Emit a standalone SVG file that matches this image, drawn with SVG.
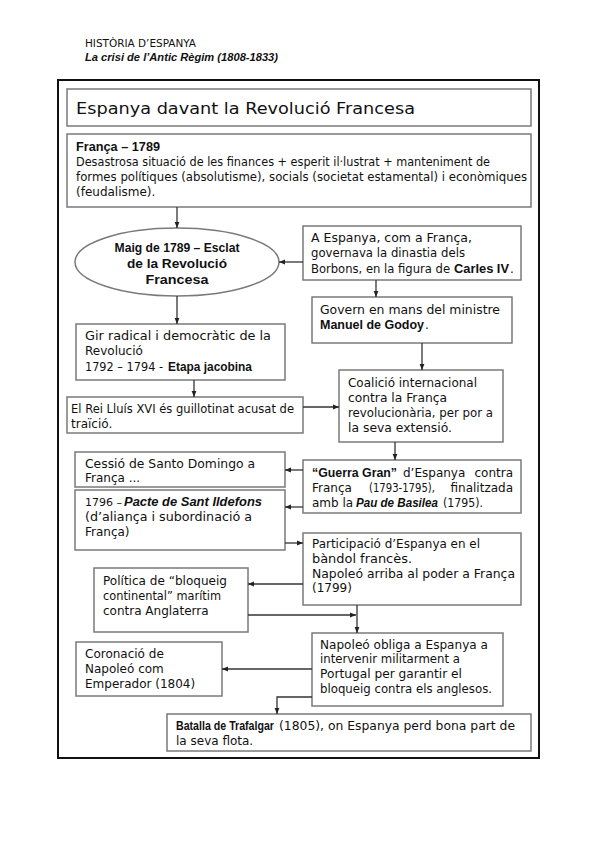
<svg xmlns="http://www.w3.org/2000/svg" width="599" height="848" viewBox="0 0 599 848">
<style>
.bg{fill:#fff}
.frame{fill:none;stroke:#111;stroke-width:2}
.box{fill:#fff;stroke:#7a7a7a;stroke-width:1.5}
text{font-family:"DejaVu Sans","Liberation Sans",sans-serif;font-size:12px;fill:#111}
.b{font-family:"Liberation Sans","DejaVu Sans",sans-serif;font-weight:bold}
.bi{font-family:"Liberation Sans","DejaVu Sans",sans-serif;font-weight:bold;font-style:italic}
.hd{font-size:10px}
.hi{font-size:11px}
.sm{font-size:11px}
.el{font-size:13px}
.ttl{font-size:16.5px}
.conn line,.conn path{stroke:#333;stroke-width:1.3;fill:none;marker-end:url(#ah)}
</style>
<defs>
<marker id="ah" viewBox="0 0 10 10" refX="10" refY="5" markerWidth="6" markerHeight="6" markerUnits="userSpaceOnUse" orient="auto"><path d="M0,1 L10,5 L0,9 z" fill="#222"/></marker>
</defs>
<rect class="bg" x="0" y="0" width="599" height="848"/>

<g id="header">
<text class="hd" x="85" y="47" textLength="111" lengthAdjust="spacingAndGlyphs">HISTÒRIA D’ESPANYA</text>
<text class="bi hi" x="85" y="61" textLength="193" lengthAdjust="spacingAndGlyphs">La crisi de l’Antic Règim (1808-1833)</text>
</g>

<rect class="frame" x="58" y="80" width="481" height="678"/>

<g id="title">
<rect class="box" x="67" y="89" width="464" height="37"/>
<text class="ttl" x="76" y="114" textLength="339" lengthAdjust="spacingAndGlyphs">Espanya davant la Revolució Francesa</text>
</g>

<g id="franca">
<rect class="box" x="67" y="134" width="464" height="73"/>
<text class="b" x="76" y="151" textLength="84" lengthAdjust="spacingAndGlyphs">França – 1789</text>
<text x="76" y="166" textLength="414" lengthAdjust="spacingAndGlyphs">Desastrosa situació de les finances + esperit il·lustrat + manteniment de</text>
<text x="76" y="181" textLength="451" lengthAdjust="spacingAndGlyphs">formes polítiques (absolutisme), socials (societat estamental) i econòmiques</text>
<text x="76" y="196">(feudalisme).</text>
</g>

<g id="maig">
<ellipse class="box" cx="177" cy="262" rx="102" ry="34"/>
<text class="b el" x="177" y="252" text-anchor="middle" textLength="125" lengthAdjust="spacingAndGlyphs">Maig de 1789 – Esclat</text>
<text class="b el" x="177" y="268" text-anchor="middle" textLength="100" lengthAdjust="spacingAndGlyphs">de la Revolució</text>
<text class="b el" x="177" y="284" text-anchor="middle" textLength="63" lengthAdjust="spacingAndGlyphs">Francesa</text>
</g>

<g id="aespanya">
<rect class="box" x="303" y="226" width="218" height="54"/>
<text x="311" y="242" textLength="161" lengthAdjust="spacingAndGlyphs">A Espanya, com a França,</text>
<text x="311" y="257" textLength="154" lengthAdjust="spacingAndGlyphs">governava la dinastia dels</text>
<text x="311" y="273" textLength="139" lengthAdjust="spacingAndGlyphs">Borbons, en la figura de</text>
<text class="b" x="454" y="273" textLength="55" lengthAdjust="spacingAndGlyphs">Carles IV</text>
<text x="510" y="273">.</text>
</g>

<g id="govern">
<rect class="box" x="312" y="297" width="200" height="46"/>
<text x="320" y="314" textLength="180" lengthAdjust="spacingAndGlyphs">Govern en mans del ministre</text>
<text class="b" x="320" y="329" textLength="104" lengthAdjust="spacingAndGlyphs">Manuel de Godoy</text>
<text x="425" y="329">.</text>
</g>

<g id="gir">
<rect class="box" x="76" y="324" width="209" height="56"/>
<text x="85" y="340" textLength="186" lengthAdjust="spacingAndGlyphs">Gir radical i democràtic de la</text>
<text x="85" y="355">Revolució</text>
<text x="85" y="371" textLength="78" lengthAdjust="spacingAndGlyphs">1792 – 1794 -</text>
<text class="b" x="168" y="371" textLength="84" lengthAdjust="spacingAndGlyphs">Etapa jacobina</text>
</g>

<g id="rei">
<rect class="box" x="67" y="397" width="236" height="36"/>
<text x="71" y="413" textLength="223" lengthAdjust="spacingAndGlyphs">El Rei Lluís XVI és guillotinat acusat de</text>
<text x="71" y="428">traïció.</text>
</g>

<g id="coalicio">
<rect class="box" x="339" y="370" width="164" height="72"/>
<text x="348" y="387" textLength="129" lengthAdjust="spacingAndGlyphs">Coalició internacional</text>
<text x="348" y="402" textLength="99" lengthAdjust="spacingAndGlyphs">contra la França</text>
<text x="348" y="417" textLength="145" lengthAdjust="spacingAndGlyphs">revolucionària, per por a</text>
<text x="348" y="432" textLength="104" lengthAdjust="spacingAndGlyphs">la seva extensió.</text>
</g>

<g id="cessio">
<rect class="box" x="75" y="452" width="210" height="35"/>
<text x="85" y="468" textLength="170" lengthAdjust="spacingAndGlyphs">Cessió de Santo Domingo a</text>
<text x="85" y="482">França ...</text>
</g>

<g id="guerra">
<rect class="box" x="303" y="460" width="218" height="53"/>
<text class="b" x="312" y="477" textLength="85" lengthAdjust="spacingAndGlyphs">“Guerra Gran”</text>
<text x="403" y="477">d’Espanya</text>
<text x="513" y="477" text-anchor="end">contra</text>
<text x="312" y="492">França</text>
<text x="369" y="492" textLength="66" lengthAdjust="spacingAndGlyphs">(1793-1795),</text>
<text x="513" y="492" text-anchor="end">finalitzada</text>
<text x="312" y="507">amb la</text>
<text class="bi" x="356" y="507" textLength="82" lengthAdjust="spacingAndGlyphs">Pau de Basilea</text>
<text x="443" y="507" textLength="40" lengthAdjust="spacingAndGlyphs">(1795).</text>
</g>

<g id="pacte">
<rect class="box" x="75" y="490" width="210" height="60"/>
<text class="sm" x="85" y="506">1796 –</text>
<text class="bi" x="124" y="506" textLength="138" lengthAdjust="spacingAndGlyphs">Pacte de Sant Ildefons</text>
<text x="85" y="521" textLength="167" lengthAdjust="spacingAndGlyphs">(d’aliança i subordinació a</text>
<text x="85" y="536">França)</text>
</g>

<g id="participacio">
<rect class="box" x="303" y="533" width="218" height="72"/>
<text x="312" y="548" textLength="168" lengthAdjust="spacingAndGlyphs">Participació d’Espanya en el</text>
<text x="312" y="563" textLength="100" lengthAdjust="spacingAndGlyphs">bàndol francès.</text>
<text x="312" y="578" textLength="203" lengthAdjust="spacingAndGlyphs">Napoleó arriba al poder a França</text>
<text x="312" y="592">(1799)</text>
</g>

<g id="politica">
<rect class="box" x="94" y="568" width="154" height="64"/>
<text x="103" y="585" textLength="124" lengthAdjust="spacingAndGlyphs">Política de “bloqueig</text>
<text x="103" y="600" textLength="118" lengthAdjust="spacingAndGlyphs">continental” marítim</text>
<text x="103" y="615">contra Anglaterra</text>
</g>

<g id="napoleo">
<rect class="box" x="312" y="633" width="191" height="73"/>
<text x="320" y="649" textLength="168" lengthAdjust="spacingAndGlyphs">Napoleó obliga a Espanya a</text>
<text x="320" y="663" textLength="140" lengthAdjust="spacingAndGlyphs">intervenir militarment a</text>
<text x="320" y="678" textLength="142" lengthAdjust="spacingAndGlyphs">Portugal per garantir el</text>
<text x="320" y="693" textLength="172" lengthAdjust="spacingAndGlyphs">bloqueig contra els anglesos.</text>
</g>

<g id="coronacio">
<rect class="box" x="76" y="642" width="146" height="54"/>
<text x="85" y="658">Coronació de</text>
<text x="85" y="673">Napoleó com</text>
<text x="85" y="688">Emperador (1804)</text>
</g>

<g id="trafalgar">
<rect class="box" x="167" y="714" width="364" height="37"/>
<text class="b" x="176" y="730" textLength="98" lengthAdjust="spacingAndGlyphs">Batalla de Trafalgar</text>
<text x="279" y="730" textLength="236" lengthAdjust="spacingAndGlyphs">(1805), on Espanya perd bona part de</text>
<text x="176" y="745">la seva flota.</text>
</g>

<g id="connectors" class="conn">
<line x1="177" y1="207" x2="177" y2="228"/>
<line x1="303" y1="262" x2="279" y2="262"/>
<line x1="376" y1="280" x2="376" y2="297"/>
<line x1="177" y1="296" x2="177" y2="324"/>
<line x1="194" y1="380" x2="194" y2="397"/>
<line x1="303" y1="407" x2="339" y2="407"/>
<line x1="422" y1="343" x2="422" y2="370"/>
<line x1="395" y1="442" x2="395" y2="460"/>
<line x1="303" y1="470" x2="285" y2="470"/>
<line x1="303" y1="507" x2="285" y2="507"/>
<line x1="285" y1="543" x2="303" y2="543"/>
<line x1="303" y1="584" x2="248" y2="584"/>
<line x1="248" y1="615" x2="356" y2="615"/>
<line x1="357" y1="605" x2="357" y2="633"/>
<line x1="312" y1="669" x2="222" y2="669"/>
<path d="M312,697 H277 V714"/>
</g>
</svg>
